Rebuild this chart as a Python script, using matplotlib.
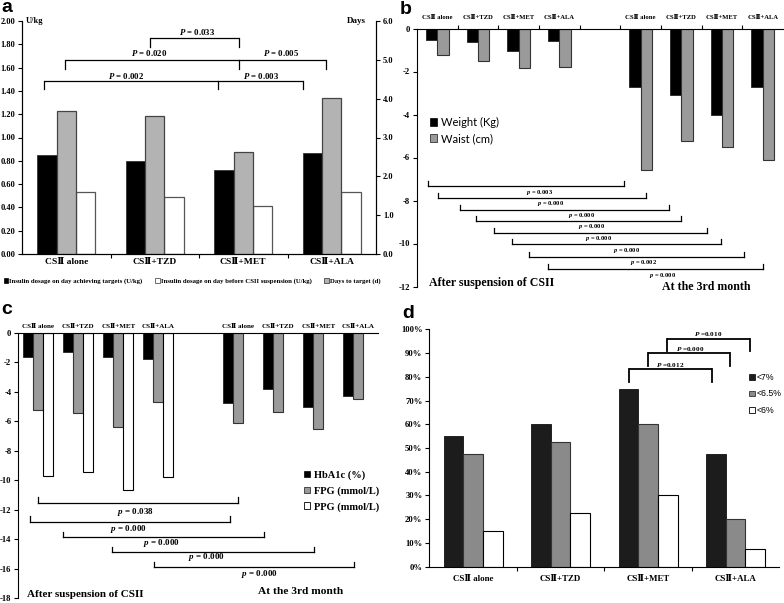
import matplotlib
matplotlib.use('Agg')
import matplotlib.pyplot as plt
import numpy as np
from matplotlib.patches import Patch
from matplotlib.ticker import FormatStrFormatter, FixedLocator, FixedFormatter

plt.rcParams['font.family'] = ['Liberation Serif', 'DejaVu Serif']
plt.rcParams['font.weight'] = 'bold'
plt.rcParams['axes.linewidth'] = 0.8
plt.rcParams['axes.unicode_minus'] = False
plt.rcParams['mathtext.fontset'] = 'custom'
plt.rcParams['mathtext.it'] = 'Liberation Serif:italic:bold'
plt.rcParams['mathtext.rm'] = 'Liberation Serif:bold'

# ---------------- data ----------------
groups = ['CSⅡ alone', 'CSⅡ+TZD', 'CSⅡ+MET', 'CSⅡ+ALA']

# panel a
dose_target = [0.85, 0.80, 0.72, 0.87]      # U/kg
days_target = [3.68, 3.56, 2.63, 4.01]      # days (right axis)
dose_before = [0.53, 0.49, 0.41, 0.53]      # U/kg

# panel b
weight_after = [-0.55, -0.62, -1.05, -0.57]
waist_after = [-1.24, -1.52, -1.86, -1.81]
weight_3m = [-2.74, -3.07, -4.03, -2.71]
waist_3m = [-6.56, -5.23, -5.51, -6.13]

# panel c
hba1c_after = [-1.63, -1.30, -1.63, -1.79]
fpg_after = [-5.24, -5.47, -6.42, -4.72]
ppg_after = [-9.69, -9.45, -10.64, -9.81]
hba1c_3m = [-4.79, -3.84, -5.02, -4.27]
fpg_3m = [-6.10, -5.36, -6.55, -4.52]

# panel d (%)
lt7 = [55, 60, 75, 47.4]
lt65 = [47.5, 52.5, 60, 20]
lt6 = [15, 22.5, 30, 7.5]

W, H = 784, 603
fig = plt.figure(figsize=(W / 100, H / 100), dpi=100)


def fax(x0, y0, x1, y1):
    return fig.add_axes([x0 / W, 1 - y1 / H, (x1 - x0) / W, (y1 - y0) / H])


def br_down(ax, x1, x2, y, h, mids=(), lw=0.9):
    ax.plot([x1, x2], [y, y], color='black', lw=lw, solid_capstyle='butt', clip_on=False)
    for xx in [x1, x2] + list(mids):
        ax.plot([xx, xx], [y, y - h], color='black', lw=lw, clip_on=False)


def br_up(ax, x1, x2, y, h, lw=0.9):
    ax.plot([x1, x2], [y, y], color='black', lw=lw, clip_on=False)
    for xx in [x1, x2]:
        ax.plot([xx, xx], [y, y + h], color='black', lw=lw, clip_on=False)


def cat_ticks(ax, centers, labels, bounds, size, top=False, pad=2):
    ax.xaxis.set_major_locator(FixedLocator(bounds))
    ax.xaxis.set_major_formatter(FixedFormatter([''] * len(bounds)))
    ax.xaxis.set_minor_locator(FixedLocator(centers))
    ax.xaxis.set_minor_formatter(FixedFormatter(labels))
    ax.tick_params(axis='x', which='major', direction='out', length=3, width=0.8)
    ax.tick_params(axis='x', which='minor', length=0, labelsize=size, pad=pad)
    if top:
        ax.xaxis.set_ticks_position('top')
        ax.xaxis.set_label_position('top')


# ---------------- panel a ----------------
axA = fax(22, 21, 376, 254)
x = np.arange(4)
wa = 0.22
axA.bar(x - wa, dose_target, wa, color='black', edgecolor='#333333', lw=0.6)
axA.bar(x + wa, dose_before, wa, color='white', edgecolor='#555555', lw=0.9)
axA.set_xlim(-0.5, 3.5)
axA.set_ylim(0, 2)
axA.set_yticks(np.arange(0, 2.001, 0.2))
axA.yaxis.set_major_formatter(FormatStrFormatter('%.2f'))
axA.tick_params(axis='y', direction='out', length=3, labelsize=6, pad=2)
cat_ticks(axA, x, groups, [0.5, 1.5, 2.5], 6.8, pad=3)
axA.spines['top'].set_visible(False)
axA2 = axA.twinx()
axA2.bar(x, days_target, wa, color='#b3b3b3', edgecolor='#444444', lw=0.9)
axA2.set_ylim(0, 6)
axA2.set_yticks(np.arange(0, 6.01, 1))
axA2.yaxis.set_major_formatter(FormatStrFormatter('%.1f'))
axA2.tick_params(axis='y', direction='out', length=3, labelsize=6, pad=2)
axA2.spines['top'].set_visible(False)
fig.text(26 / W, 1 - 21 / H, 'U/kg', fontsize=6, va='center', ha='left')
fig.text(366 / W, 1 - 21 / H, 'Days', fontsize=6.5, va='center', ha='right')

br_down(axA, 0.95, 1.955, 1.857, 0.077)
axA.text(1.48, 1.905, r'$\it{P}$ = 0.033', fontsize=6.3, ha='center', va='center')
br_down(axA, -0.01, 2.93, 1.663, 0.075, mids=[1.955])
axA.text(0.94, 1.725, r'$\it{P}$ = 0.020', fontsize=6.3, ha='center', va='center')
axA.text(2.43, 1.725, r'$\it{P}$ = 0.005', fontsize=6.3, ha='center', va='center')
br_down(axA, -0.25, 2.68, 1.488, 0.072, mids=[1.72])
axA.text(0.68, 1.528, r'$\it{P}$ = 0.002', fontsize=6.3, ha='center', va='center')
axA.text(2.20, 1.528, r'$\it{P}$ = 0.003', fontsize=6.3, ha='center', va='center')

hA = [Patch(facecolor='black', edgecolor='black', lw=0.5),
      Patch(facecolor='white', edgecolor='#555555', lw=0.6),
      Patch(facecolor='#b3b3b3', edgecolor='#444444', lw=0.6)]
fig.legend(hA, ['Insulin dosage on day achieving targets (U/kg)',
                'Insulin dosage on day before CSII suspension (U/kg)',
                'Days to target (d)'],
           loc='center', bbox_to_anchor=(192 / W, 1 - 281 / H), ncol=3, frameon=False,
           fontsize=4.9, handlelength=0.7, handleheight=0.7, handletextpad=0.15,
           columnspacing=1.8, borderpad=0)

# ---------------- panel b ----------------
axB = fax(417, 28.5, 783, 286.5)
pa = np.arange(4)
p3 = np.arange(5, 9)
bw = 0.28
axB.bar(pa - bw / 2, weight_after, bw, color='black', edgecolor='#222222', lw=0.6)
axB.bar(pa + bw / 2, waist_after, bw, color='#9a9a9a', edgecolor='#333333', lw=0.8)
axB.bar(p3 - bw / 2, weight_3m, bw, color='black', edgecolor='#222222', lw=0.6)
axB.bar(p3 + bw / 2, waist_3m, bw, color='#9a9a9a', edgecolor='#333333', lw=0.8)
axB.set_xlim(-0.5, 8.5)
axB.set_ylim(-12, 0)
axB.set_yticks(np.arange(-12, 0.01, 2))
axB.tick_params(axis='y', direction='out', length=3, labelsize=6.2, pad=2)
cat_ticks(axB, list(pa) + list(p3), groups + groups, list(np.arange(0.5, 8, 1)), 4.8,
          top=True, pad=6)
axB.spines['bottom'].set_visible(False)
axB.spines['right'].set_visible(False)

b_br_x1 = [-0.23, 0.01, 0.55, 0.94, 1.39, 1.84, 2.26, 2.71]
b_br_x2 = [4.58, 5.14, 5.69, 5.99, 6.62, 6.97, 7.53, 8.00]
b_br_y = [-7.33, -7.87, -8.43, -8.96, -9.49, -10.01, -10.64, -11.18]
b_lab_x = [2.52, 2.79, 3.55, 3.78, 3.97, 4.64, 5.08, 5.54]
b_lab_y = [-7.64, -8.15, -8.68, -9.22, -9.75, -10.33, -10.90, -11.48]
b_p = ['0.003', '0.000', '0.000', '0.000', '0.000', '0.000', '0.002', '0.000']
for x1, x2, yy, lx, ly, pv in zip(b_br_x1, b_br_x2, b_br_y, b_lab_x, b_lab_y, b_p):
    br_up(axB, x1, x2, yy, 0.23, lw=0.9)
    axB.text(lx, ly, r'$\it{p}$ = ' + pv, fontsize=4.7, ha='center', va='center')
axB.text(-0.2, -11.86, 'After suspension of CSII', fontsize=8.6, ha='left', va='center')
axB.text(5.52, -12.0, 'At the 3rd month', fontsize=8.6, ha='left', va='center')
hB = [Patch(facecolor='black', edgecolor='black', lw=0.5),
      Patch(facecolor='#9a9a9a', edgecolor='#333333', lw=0.6)]
axB.legend(hB, ['Weight (Kg)', 'Waist (cm)'], loc='center left',
           bbox_to_anchor=(424 / W, 1 - 130.5 / H), bbox_transform=fig.transFigure,
           frameon=False, prop={'family': 'Lato', 'size': 8, 'weight': 'normal'},
           handlelength=0.7, handleheight=0.7, handletextpad=0.3, labelspacing=0.45,
           borderpad=0)

# ---------------- panel c ----------------
axC = fax(18.3, 332.7, 378.3, 598)
wc = 0.25
axC.bar(pa - wc, hba1c_after, wc, color='black', edgecolor='#222222', lw=0.6)
axC.bar(pa, fpg_after, wc, color='#9a9a9a', edgecolor='#333333', lw=0.8)
axC.bar(pa + wc, ppg_after, wc, color='white', edgecolor='black', lw=0.8)
axC.bar(p3 - wc, hba1c_3m, wc, color='black', edgecolor='#222222', lw=0.6)
axC.bar(p3, fpg_3m, wc, color='#9a9a9a', edgecolor='#333333', lw=0.8)
axC.set_xlim(-0.5, 8.5)
axC.set_ylim(-18, 0)
axC.set_yticks(np.arange(-18, 0.01, 2))
axC.tick_params(axis='y', direction='out', length=3, labelsize=6.2, pad=2)
cat_ticks(axC, list(pa) + list(p3), groups + groups, list(np.arange(0.5, 8, 1)), 5.0,
          top=True, pad=3)
axC.tick_params(axis='x', which='major', length=0)
axC.spines['bottom'].set_visible(False)
axC.spines['right'].set_visible(False)

c_br_x1 = [0.00, -0.21, 0.61, 1.84, 2.88]
c_br_x2 = [5.00, 4.79, 5.64, 6.88, 7.89]
c_br_y = [-11.53, -12.82, -13.88, -14.90, -15.88]
c_lab_x = [2.42, 2.25, 3.07, 4.21, 5.53]
c_lab_y = [-12.14, -13.34, -14.29, -15.20, -16.37]
c_p = ['0.038', '0.000', '0.000', '0.000', '0.000']
for x1, x2, yy, lx, ly, pv in zip(c_br_x1, c_br_x2, c_br_y, c_lab_x, c_lab_y, c_p):
    br_up(axC, x1, x2, yy, 0.35, lw=0.9)
    axC.text(lx, ly, r'$\it{p}$ = ' + pv, fontsize=6.5, ha='center', va='center')
axC.text(-0.28, -17.75, 'After suspension of CSII', fontsize=8.0, ha='left', va='center')
axC.text(5.49, -17.57, 'At the 3rd month', fontsize=8.2, ha='left', va='center')
hC = [Patch(facecolor='black', edgecolor='black', lw=0.5),
      Patch(facecolor='#9a9a9a', edgecolor='#333333', lw=0.6),
      Patch(facecolor='white', edgecolor='black', lw=0.6)]
axC.legend(hC, ['HbA1c (%)', 'FPG (mmol/L)', 'PPG (mmol/L)'], loc='center left',
           bbox_to_anchor=(299 / W, 1 - 491 / H), bbox_transform=fig.transFigure,
           frameon=False, fontsize=7.5, handlelength=0.6, handleheight=0.6,
           handletextpad=0.3, labelspacing=0.6, borderpad=0)

# ---------------- panel d ----------------
axD = fax(429.3, 329.3, 779.3, 566.7)
wd = 0.225
axD.bar(x - wd, lt7, wd, color='#1c1c1c', edgecolor='#111111', lw=0.6)
axD.bar(x, lt65, wd, color='#8a8a8a', edgecolor='#333333', lw=0.8)
axD.bar(x + wd, lt6, wd, color='white', edgecolor='black', lw=0.8)
axD.set_xlim(-0.5, 3.5)
axD.set_ylim(0, 100)
axD.set_yticks(np.arange(0, 100.1, 10))
axD.yaxis.set_major_formatter(FormatStrFormatter('%d%%'))
axD.tick_params(axis='y', direction='out', length=3, labelsize=6.2, pad=2)
cat_ticks(axD, x, groups, [0.5, 1.5, 2.5], 6.4, pad=6)
axD.spines['top'].set_visible(False)
axD.spines['right'].set_visible(False)

d_br_x1 = [1.78, 2.00, 2.22]
d_br_x2 = [2.73, 2.94, 3.17]
d_br_top = [83.2, 89.9, 95.9]
d_br_h = [5.3, 5.4, 5.0]
d_lab_x = [2.25, 2.48, 2.69]
d_lab_y = [85.0, 91.8, 98.0]
d_p = ['0.012', '0.000', '0.010']
for x1, x2, yy, hh, lx, ly, pv in zip(d_br_x1, d_br_x2, d_br_top, d_br_h, d_lab_x, d_lab_y, d_p):
    br_down(axD, x1, x2, yy, hh, lw=1.3)
    axD.text(lx, ly, r'$\it{P}$ =' + pv, fontsize=5.2, ha='center', va='center')
hD = [Patch(facecolor='#1c1c1c', edgecolor='black', lw=0.5),
      Patch(facecolor='#8a8a8a', edgecolor='#333333', lw=0.6),
      Patch(facecolor='white', edgecolor='black', lw=0.6)]
axD.legend(hD, ['<7%', '<6.5%', '<6%'], loc='center left',
           bbox_to_anchor=(745 / W, 1 - 394 / H), bbox_transform=fig.transFigure,
           frameon=False, prop={'family': 'Liberation Sans', 'size': 6.3, 'weight': 'normal'},
           handlelength=0.6, handleheight=0.6, handletextpad=0.2, labelspacing=0.85,
           borderpad=0)

# ---------------- panel letters ----------------
for lx, ly, s in [(1, 8, 'a'), (400, 9, 'b'), (1, 310, 'c'), (402, 314, 'd')]:
    fig.text(lx / W, 1 - ly / H, s, fontsize=14, fontweight='bold',
             family='Liberation Sans', ha='left', va='center')

fig.savefig('out.png', dpi=100)
